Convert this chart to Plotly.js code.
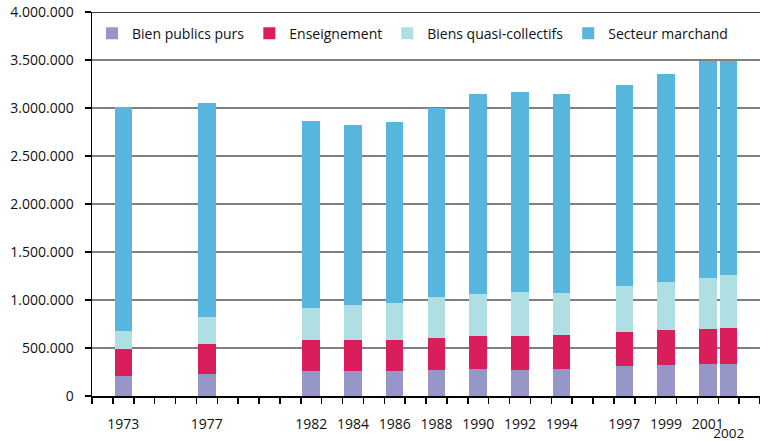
<!DOCTYPE html>
<html>
<head>
<meta charset="utf-8">
<script src="https://cdn.plot.ly/plotly-3.0.1.min.js"></script>
<style>html,body{margin:0;padding:0;background:#fff;}#chart{width:760px;height:441px;}</style>
</head>
<body>
<div id="chart"></div>
<script>
// Data
const years = [1973, 1977, 1982, 1984, 1986, 1988, 1990, 1992, 1994, 1997, 1999, 2001, 2002];
const bienPublicsPurs = [208000, 229000, 260000, 260000, 260000, 271000, 281000, 271000, 281000, 313000, 323000, 333000, 333000];
const enseignement = [282000, 316000, 323000, 323000, 323000, 333000, 344000, 354000, 354000, 354000, 365000, 365000, 375000];
const biensQuasiCollectifs = [187000, 278000, 334000, 365000, 386000, 427000, 437000, 458000, 438000, 479000, 499000, 531000, 552000];
const secteurMarchand = [2333000, 2227000, 1948000, 1875000, 1885000, 1969000, 2084000, 2084000, 2073000, 2094000, 2167000, 2261000, 2230000];
const seriesNames = ["Bien publics purs", "Enseignement", "Biens quasi-collectifs", "Secteur marchand"];
const seriesColors = ["#9696c8", "#d91e5b", "#afdfe3", "#58b6de"];
const lowLabelYears = [2002];
const mainLabelYears = years.filter(y => !lowLabelYears.includes(y));

const seriesValues = [bienPublicsPurs, enseignement, biensQuasiCollectifs, secteurMarchand];
const traces = seriesValues.map((vals, i) => ({
  type: "bar",
  name: seriesNames[i],
  x: years,
  y: vals,
  width: 0.84,
  marker: {color: seriesColors[i], line: {width: 0}},
  hoverinfo: "skip"
}));
// empty helper trace so that the second (label-only) x axis is drawn
traces.push({type: "scatter", mode: "markers", x: [], y: [], xaxis: "x2", yaxis: "y", showlegend: false, hoverinfo: "skip"});

const boundaries = [];
for (let y = 1971.5; y <= 2003.5; y += 1) boundaries.push(y);

const font = "'Open Sans', 'Noto Sans', sans-serif";
const textColor = "#111111";

const layout = {
  width: 760,
  height: 441,
  margin: {l: 92, r: 0, t: 12, b: 45, pad: 0},
  paper_bgcolor: "#ffffff",
  plot_bgcolor: "#ffffff",
  separators: ",.",
  font: {family: font, size: 14, color: textColor},
  barmode: "stack",
  showlegend: true,
  legend: {
    orientation: "h",
    x: 0, xanchor: "left",
    y: 0.985, yanchor: "top",
    bgcolor: "rgba(0,0,0,0)",
    font: {family: font, size: 14, color: textColor},
    traceorder: "normal",
    itemclick: false
  },
  xaxis: {
    type: "linear",
    range: [1971.5, 2003.5],
    tickmode: "array",
    tickvals: mainLabelYears,
    ticktext: mainLabelYears.map(String),
    ticks: "",
    showgrid: false,
    zeroline: false,
    showline: true,
    linecolor: "#000000",
    linewidth: 1.5,
    ticklabelstandoff: 15,
    tickfont: {family: font, size: 14, color: textColor},
    minor: {tickmode: "array", tickvals: boundaries, ticks: "outside", ticklen: 6, tickcolor: "#000000", tickwidth: 1.5, showgrid: false}
  },
  xaxis2: {
    type: "linear",
    overlaying: "x",
    side: "bottom",
    anchor: "y",
    range: [1971.5, 2003.5],
    tickmode: "array",
    tickvals: lowLabelYears,
    ticktext: lowLabelYears.map(String),
    ticks: "",
    showgrid: false,
    zeroline: false,
    showline: false,
    ticklabelstandoff: 27,
    tickfont: {family: font, size: 13.5, color: textColor}
  },
  yaxis: {
    range: [0, 4000000],
    tickmode: "linear",
    tick0: 0,
    dtick: 500000,
    tickformat: ",d",
    ticks: "outside",
    ticklen: 6,
    tickwidth: 1.5,
    tickcolor: "#000000",
    showline: true,
    linecolor: "#000000",
    linewidth: 1.5,
    showgrid: true,
    gridcolor: "#808080",
    gridwidth: 1.5,
    zeroline: false,
    ticklabelstandoff: 8,
    tickfont: {family: font, size: 14, color: textColor}
  },
  shapes: [3000000, 4000000].map(v => ({
    type: "line", xref: "paper", yref: "y", x0: 0, x1: 1, y0: v, y1: v,
    line: {color: "#000000", width: 1.5}, layer: "below"
  }))
};

Plotly.newPlot("chart", traces, layout, {displayModeBar: false, staticPlot: true});
</script>
</body>
</html>
